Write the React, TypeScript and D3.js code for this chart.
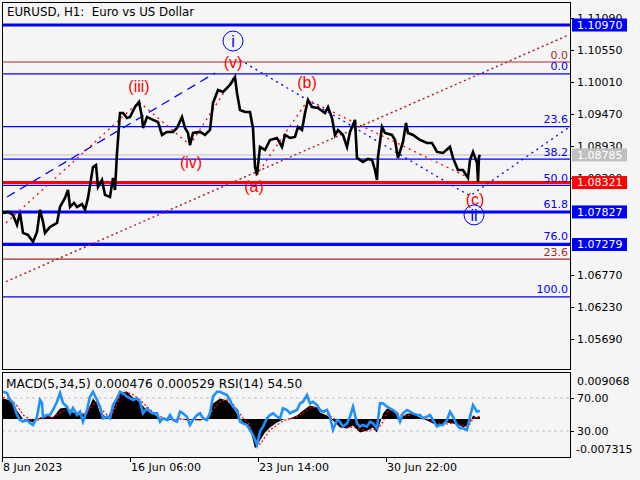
import React, { useEffect, useRef } from "react";
import * as d3 from "d3";

// EURUSD H1 closes as [bar index, price]
const pricePoints: [number, number][] = [
  [1, 1.07811], [6, 1.07827], [11, 1.07777], [15, 1.07609], [18, 1.07811], [21, 1.07474],
  [26, 1.0744], [31, 1.07323], [35, 1.0749], [38, 1.07861], [41, 1.0766], [43, 1.07474],
  [48, 1.07575], [55, 1.07642], [58, 1.07911], [63, 1.08063], [66, 1.08197], [68, 1.07911],
  [72, 1.07978], [75, 1.07911], [80, 1.0796], [83, 1.07861], [86, 1.08063], [91, 1.08584],
  [94, 1.08617], [96, 1.08247], [100, 1.08365], [103, 1.08113], [108, 1.08079], [111, 1.08399],
  [113, 1.08197], [115, 1.08819], [118, 1.09491], [121, 1.09491], [125, 1.09407], [128, 1.09424],
  [133, 1.09592], [137, 1.09676], [140, 1.09424], [141, 1.09239], [145, 1.09424], [151, 1.09374],
  [156, 1.0934], [160, 1.09121], [165, 1.09172], [171, 1.09172], [175, 1.09239], [180, 1.09424],
  [183, 1.09239], [186, 1.09155], [188, 1.08953], [191, 1.09155], [198, 1.09172], [203, 1.09121],
  [208, 1.09205], [211, 1.09659], [216, 1.09878], [221, 1.09844], [228, 1.09962], [233, 1.10096],
  [235, 1.09827], [238, 1.09542], [243, 1.09508], [248, 1.09508], [250, 1.09323], [251, 1.09239],
  [253, 1.08584], [255, 1.08449], [258, 1.0892], [263, 1.08869], [268, 1.09037], [275, 1.09071],
  [280, 1.0892], [283, 1.09121], [288, 1.09071], [293, 1.09088], [296, 1.09256], [300, 1.09205],
  [303, 1.09491], [306, 1.0971], [310, 1.09592], [316, 1.09575], [323, 1.09491], [326, 1.09592],
  [330, 1.09407], [333, 1.09121], [336, 1.09205], [341, 1.09121], [345, 1.0892], [348, 1.09172],
  [353, 1.09374], [355, 1.08735], [361, 1.08668], [366, 1.08718], [370, 1.08701], [373, 1.08533],
  [375, 1.08365], [376, 1.08752], [380, 1.09256], [383, 1.09155], [390, 1.09121], [393, 1.09037],
  [396, 1.08735], [401, 1.09004], [404, 1.09323], [406, 1.09155], [411, 1.09121], [418, 1.09037],
  [425, 1.08987], [430, 1.08987], [435, 1.08836], [441, 1.08819], [448, 1.0892], [451, 1.08735],
  [456, 1.08533], [461, 1.08533], [466, 1.08399], [468, 1.08701], [471, 1.08836], [475, 1.08651],
  [476, 1.08332], [477, 1.08752], [478, 1.08785],
];

// MACD(5,34,5): [bar index, main, signal]
const macdPoints: [number, number, number][] = [
  [1, 0.00405, 0.0042], [8, 0.0037, 0.004], [15, 0.00168, 0.0026], [21, 0.0, 0.0008],
  [31, -0.00069, -0.0004], [38, 0.0003, -0.0001], [45, 0.00069, 0.0004], [51, 0.0003, 0.0004],
  [58, 0.00207, 0.0012], [65, 0.00227, 0.0019], [71, 0.00128, 0.0017], [78, 0.00069, 0.001],
  [85, 0.00128, 0.001], [91, 0.00405, 0.0028], [95, 0.00306, 0.0034], [98, 0.00128, 0.0022],
  [105, 0.0003, 0.0008], [111, 0.00168, 0.0011], [115, 0.00424, 0.003], [118, 0.00523, 0.0044],
  [125, 0.00543, 0.0053], [131, 0.00424, 0.0048], [138, 0.00326, 0.0038], [145, 0.00168, 0.0024],
  [151, 0.00109, 0.0014], [158, 0.0001, 0.0005], [165, -0.0003, -0.0001], [171, -0.0001, -0.0001],
  [178, 0.0001, 0.0], [185, -0.0003, -0.0001], [191, -0.0001, -0.0002], [198, -0.0003, -0.0002],
  [205, 0.0003, 0.0], [211, 0.00306, 0.0018], [218, 0.00405, 0.0034], [225, 0.00365, 0.0038],
  [231, 0.00227, 0.003], [235, 0.00109, 0.0018], [241, -0.00069, 0.0002], [248, -0.00188, -0.0012],
  [253, -0.00582, -0.004], [258, -0.00424, -0.005], [263, -0.00267, -0.0036], [268, -0.00168, -0.0022],
  [275, -0.00069, -0.0012], [281, -0.0001, -0.0004], [288, 0.0001, 0.0], [295, 0.00069, 0.0004],
  [301, 0.00168, 0.0012], [308, 0.00267, 0.0022], [315, 0.00227, 0.0024], [318, 0.00128, 0.0018],
  [325, 0.00069, 0.001], [331, -0.0003, 0.0002], [338, -0.00168, -0.001], [345, -0.00188, -0.0017],
  [351, -0.00128, -0.0016], [358, -0.00267, -0.002], [365, -0.00227, -0.0024], [371, -0.00168, -0.002],
  [375, -0.00267, -0.0022], [381, 0.00109, -0.0006], [385, 0.00207, 0.0014], [391, 0.00168, 0.0018],
  [398, 0.0001, 0.0008], [405, 0.00109, 0.0006], [411, 0.00109, 0.001], [418, 0.0003, 0.0006],
  [425, -0.0003, 0.0], [431, -0.00089, -0.0006], [438, -0.00128, -0.001], [445, -0.00069, -0.001],
  [451, -0.00089, -0.0008], [458, -0.00128, -0.0011], [461, -0.00168, -0.0014], [465, -0.00128, -0.0014],
  [468, -0.00069, -0.001], [471, 0.00069, 0.0], [475, 0.0003, 0.0004], [478, 0.000476, 0.000529],
];

// RSI(14): [bar index, value]
const rsiPoints: [number, number][] = [
  [1, 77.6], [5, 76], [8, 67.6], [11, 64], [15, 49.4], [18, 43.3], [21, 41.3], [25, 43.3],
  [28, 39.7], [31, 37.3], [35, 47.3], [38, 67.6], [40, 64], [41, 47.3], [45, 49.4], [48, 49.4],
  [51, 55.5], [55, 65.5], [58, 76], [61, 64], [65, 59.4], [68, 51.4], [71, 57.9], [75, 49.4],
  [78, 53.4], [81, 41.3], [85, 55.5], [88, 71.6], [91, 77.6], [95, 67.6], [98, 59.4], [101, 45.4],
  [105, 47.3], [108, 45.4], [111, 61.5], [115, 69.6], [118, 77.6], [121, 75.7], [125, 71.6],
  [128, 69.6], [131, 67.6], [135, 69.6], [138, 65.5], [141, 51.4], [145, 57.5], [148, 53.4],
  [151, 51.4], [155, 51.4], [158, 41.3], [161, 45.4], [165, 43.3], [168, 49.4], [171, 43.3],
  [175, 41.3], [178, 53.4], [181, 51.4], [185, 47.3], [188, 37.3], [191, 43.3], [195, 49.4],
  [198, 51.4], [201, 45.4], [205, 43.3], [208, 51.4], [211, 71.6], [215, 77.6], [218, 77.6],
  [221, 75.7], [225, 73.6], [228, 67.6], [231, 59.4], [235, 55.5], [238, 41.3], [241, 39.3],
  [245, 37.3], [248, 31.2], [251, 25.2], [255, 13], [258, 29.2], [261, 35.3], [265, 45.4],
  [268, 49.4], [271, 51.4], [275, 47.3], [278, 45.4], [281, 57.5], [285, 55.5], [288, 51.4],
  [291, 53.4], [295, 55.5], [298, 63.5], [301, 65.5], [305, 73.6], [308, 63.5], [311, 65.5],
  [315, 61.5], [318, 55.5], [321, 53.4], [325, 55.5], [328, 47.3], [331, 31.2], [335, 43.3],
  [338, 41.3], [341, 35.3], [345, 39.3], [348, 47.3], [351, 59.4], [355, 39.3], [358, 35.3],
  [361, 37.3], [365, 35.3], [368, 41.3], [371, 39.3], [375, 33.3], [378, 63.5], [381, 63.5],
  [385, 59.4], [388, 57.5], [391, 55.5], [395, 51.4], [398, 41.3], [401, 51.4], [405, 55.5],
  [408, 53.4], [411, 51.4], [415, 49.4], [418, 49.4], [421, 45.4], [425, 47.3], [428, 49.4],
  [431, 43.3], [435, 35.3], [438, 37.3], [441, 37.3], [445, 43.3], [448, 53.4], [451, 47.3],
  [455, 37.3], [458, 33.3], [461, 33.3], [465, 31.2], [468, 47.3], [471, 61.5], [475, 53.4],
  [478, 54.5],
];

// price scale labels (1.07850 and 1.07310 sit fully under the level boxes)
const priceTicks = [1.1109, 1.1055, 1.1001, 1.0947, 1.0893, 1.0839, 1.0677, 1.0623, 1.0569];
const timeTickIdx = [0, 128, 256, 384];
const timeTickLabels = ["8 Jun 2023", "16 Jun 06:00", "23 Jun 14:00", "30 Jun 22:00"];

// highlighted price levels
const levelPrices = [1.1097, 1.08785, 1.08321, 1.07827, 1.07279];
const levelColors = ["#0000ff", "#c0c0c0", "#ff0000", "#0000ff", "#0000ff"];
const levelWidths = [3, 1, 3, 3, 3];

// fibonacci retracements
const blueFib = { p0: 1.10147, p100: 1.06399, levels: [0, 23.6, 38.2, 50, 61.8, 76, 100] };
const brownFib = { p0: 1.10348, p100: 0.96298, levels: [0, 23.6] };

// trend lines as [idx, price] points
const brownChannel: [number, number][] = [[4, 1.06655], [565, 1.1079]];
const blueWaveLine: [number, number][] = [[5, 1.08079], [213, 1.10163]];
const redZigzag1: [number, number][] = [[4, 1.07642], [137, 1.09676], [188, 1.08953], [232, 1.10096]];
const redZigzag2: [number, number][] = [[254, 1.08432], [306, 1.0971], [465, 1.08416]];
const blueZigzag: [number, number][] = [[238, 1.10382], [468, 1.08096], [566, 1.09239]];

const waveNames = ["(iii)", "(iv)", "(v)", "(a)", "(b)", "(c)"];
const waveIdx = [137, 189, 231, 252, 305, 473];
const wavePrice = [1.09945, 1.08668, 1.10348, 1.08264, 1.10012, 1.08046];
const circleNames = ["i", "ii"];
const circleIdx = [231, 472];
const circlePrice = [1.10701, 1.07777];

export default function App() {
  const ref = useRef<SVGSVGElement>(null);

  useEffect(() => {
    drawChart();
  }, []);

  function drawChart() {
    const svg = d3.select(ref.current);
    svg.selectAll("*").remove();

    const left = 2, right = 570, mainTop = 2, mainBottom = 369, subTop = 372, subBottom = 457;
    const font = "DejaVu Sans";

    const x = d3.scaleLinear().domain([0, 568]).range([left, right]);
    const y = d3.scaleLinear().domain([1.0569, 1.1055]).range([339, 50]);
    const rsiY = d3.scaleLinear().domain([0, 100]).range([455.75, 373.25]);
    const macdY = d3.scaleLinear().domain([-0.007315, 0.009068]).range([456, 373]);

    svg.append("rect").attr("width", 640).attr("height", 480).attr("fill", "#f5f5f5");

    svg.append("clipPath").attr("id", "main-clip")
      .append("rect").attr("x", left).attr("y", mainTop).attr("width", right - left).attr("height", mainBottom - mainTop);
    svg.append("clipPath").attr("id", "sub-clip")
      .append("rect").attr("x", left).attr("y", subTop).attr("width", right - left).attr("height", subBottom - subTop);

    const main = svg.append("g").attr("clip-path", "url(#main-clip)");

    const hline = (p: number, color: string, w: number) =>
      main.append("line").attr("x1", left).attr("x2", right)
        .attr("y1", y(p)).attr("y2", y(p)).attr("stroke", color).attr("stroke-width", w);

    // fib lines
    brownFib.levels.forEach((l) => hline(brownFib.p0 - (brownFib.p0 - brownFib.p100) * l / 100, "#a52a2a", 1.2));
    blueFib.levels.forEach((l) => hline(blueFib.p0 - (blueFib.p0 - blueFib.p100) * l / 100, "#0000ff", 1.2));
    levelPrices.forEach((p, i) => hline(p, levelColors[i], levelWidths[i]));

    const line = d3.line<[number, number]>().x((d) => x(d[0])).y((d) => y(d[1]));
    const trend = (pts: [number, number][], color: string, dash: string, w = 1.3) =>
      main.append("path").attr("d", line(pts)).attr("fill", "none")
        .attr("stroke", color).attr("stroke-width", w).attr("stroke-dasharray", dash);

    trend(brownChannel, "#a52a2a", "2,3", 1.5);
    trend(blueWaveLine, "#0000ff", "9,6");
    trend(redZigzag1, "#ff0000", "2,4");
    trend(redZigzag2, "#ff0000", "2,4");
    trend(blueZigzag, "#0000ff", "2,4");

    // price
    main.append("path").attr("d", line(pricePoints)).attr("fill", "none")
      .attr("stroke", "#000").attr("stroke-width", 2.6).attr("stroke-linejoin", "miter");

    // fib labels
    const fibLabel = (fib: typeof blueFib, color: string) =>
      fib.levels.forEach((l) => {
        const p = fib.p0 - (fib.p0 - fib.p100) * l / 100;
        main.append("text").attr("x", right - 2).attr("y", y(p) - 3.5)
          .attr("text-anchor", "end").attr("font-family", font).attr("font-size", 11)
          .attr("fill", color).text(l.toFixed(1));
      });
    fibLabel(brownFib, "#a52a2a");
    fibLabel(blueFib, "#0000ff");

    // wave labels
    waveNames.forEach((t, i) => {
      main.append("text").attr("x", x(waveIdx[i])).attr("y", y(wavePrice[i])).attr("dy", "0.35em")
        .attr("text-anchor", "middle").attr("font-family", "Liberation Sans").attr("font-size", 16)
        .attr("fill", "#ff0000").text(t);
    });
    circleNames.forEach((t, i) => {
      main.append("circle").attr("cx", x(circleIdx[i])).attr("cy", y(circlePrice[i])).attr("r", 10)
        .attr("fill", "none").attr("stroke", "#0000ff").attr("stroke-width", 1);
      main.append("text").attr("x", x(circleIdx[i])).attr("y", y(circlePrice[i])).attr("dy", "0.36em")
        .attr("text-anchor", "middle").attr("font-family", "Liberation Sans").attr("font-size", 16)
        .attr("fill", "#0000ff").text(t);
    });

    main.append("text").attr("x", 7).attr("y", 12).attr("dy", "0.35em")
      .attr("font-family", font).attr("font-size", 11.8).style("white-space", "pre")
      .text("EURUSD, H1:  Euro vs US Dollar");

    // indicator window
    const sub = svg.append("g").attr("clip-path", "url(#sub-clip)");
    [70, 30].forEach((v) =>
      sub.append("line").attr("x1", left).attr("x2", right).attr("y1", rsiY(v)).attr("y2", rsiY(v))
        .attr("stroke", "#c0c0c0").attr("stroke-dasharray", "3,3"));
    sub.append("path")
      .attr("d", d3.area<[number, number, number]>().x((d) => x(d[0])).y0(macdY(0)).y1((d) => macdY(d[1]))(macdPoints))
      .attr("fill", "#000");
    sub.append("path")
      .attr("d", d3.line<[number, number, number]>().x((d) => x(d[0])).y((d) => macdY(d[2]))(macdPoints))
      .attr("fill", "none").attr("stroke", "#ff0000").attr("stroke-width", 1.2).attr("stroke-dasharray", "2,2");
    sub.append("path")
      .attr("d", d3.line<[number, number]>().x((d) => x(d[0])).y((d) => rsiY(d[1]))(rsiPoints))
      .attr("fill", "none").attr("stroke", "#1e90ff").attr("stroke-width", 2.6);
    sub.append("text").attr("x", 6).attr("y", 384).attr("dy", "0.35em")
      .attr("font-family", font).attr("font-size", 12.2)
      .text("MACD(5,34,5) 0.000476 0.000529 RSI(14) 54.50");

    // frames
    [[mainTop, mainBottom], [subTop, subBottom]].forEach(([t, b]) =>
      svg.append("rect").attr("x", left + 0.5).attr("y", t + 0.5).attr("width", right - left)
        .attr("height", b - t).attr("fill", "none").attr("stroke", "#000"));

    // price axis
    const axis = svg.append("g").attr("font-family", font).attr("font-size", 11);
    priceTicks.forEach((p) => {
      axis.append("line").attr("x1", right).attr("x2", right + 4).attr("y1", Math.round(y(p)) + 0.5)
        .attr("y2", Math.round(y(p)) + 0.5).attr("stroke", "#000");
      axis.append("text").attr("x", right + 7).attr("y", y(p)).attr("dy", "0.35em").text(p.toFixed(5));
    });
    levelPrices.forEach((p, i) => {
      axis.append("rect").attr("x", right + 2).attr("y", y(p) - 6.5).attr("width", 55).attr("height", 13)
        .attr("fill", levelColors[i]);
      axis.append("text").attr("x", right + 7).attr("y", y(p)).attr("dy", "0.35em").attr("fill", "#fff").text(p.toFixed(5));
    });

    // indicator axis
    const subTicks: [number, string][] = [[rsiY(70), "70.00"], [rsiY(30), "30.00"]];
    subTicks.forEach(([yy, t]) => {
      axis.append("line").attr("x1", right).attr("x2", right + 4).attr("y1", Math.round(yy) + 0.5)
        .attr("y2", Math.round(yy) + 0.5).attr("stroke", "#000");
      axis.append("text").attr("x", right + 7).attr("y", yy).attr("dy", "0.35em").text(t);
    });
    axis.append("text").attr("x", right + 7).attr("y", macdY(0.009068) + 8).attr("dy", "0.35em").text("0.009068");
    axis.append("text").attr("x", right + 6).attr("y", macdY(-0.007315) - 7).attr("dy", "0.35em").text("-0.007315");

    // time axis
    timeTickIdx.forEach((t, i) => {
      axis.append("line").attr("x1", Math.round(x(t)) + 0.5).attr("x2", Math.round(x(t)) + 0.5)
        .attr("y1", subBottom).attr("y2", subBottom + 5).attr("stroke", "#000");
      axis.append("text").attr("x", x(t) + 1).attr("y", 467).attr("dy", "0.35em").text(timeTickLabels[i]);
    });
  }

  return (
    <div style={{ position: "fixed", left: 0, top: 0 }}>
      <svg ref={ref} width={640} height={480} style={{ display: "block" }} />
    </div>
  );
}
